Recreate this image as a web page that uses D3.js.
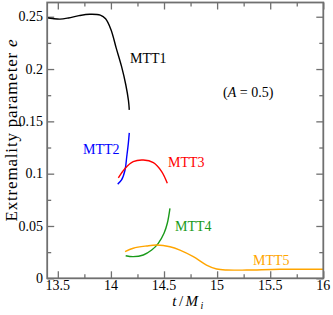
<!DOCTYPE html>
<html>
<head>
<meta charset="utf-8">
<script src="https://cdn.jsdelivr.net/npm/d3@7"></script>
<style>
  body { margin: 0; background: #fff; }
</style>
</head>
<body>
<svg id="chart" width="333" height="315"></svg>
<script>
// extremality parameter e against t/M_i, one array per MTT
var mtt1 = [
  [13.40, 0.2490], [13.45, 0.2483], [13.52, 0.2477], [13.60, 0.2488],
  [13.70, 0.2510], [13.80, 0.2523], [13.90, 0.2515], [13.95, 0.2480],
  [14.00, 0.2378], [14.05, 0.2200], [14.10, 0.2025], [14.14, 0.1850],
  [14.165, 0.1700], [14.173, 0.1610]
];
var mtt2 = [
  [14.064, 0.0900], [14.100, 0.0940], [14.133, 0.1035],
  [14.149, 0.1162], [14.164, 0.1290], [14.173, 0.1390]
];
var mtt3 = [
  [14.070, 0.0960], [14.133, 0.1050], [14.210, 0.1115], [14.305, 0.1130],
  [14.400, 0.1105], [14.478, 0.1020], [14.531, 0.0908]
];
var mtt4 = [
  [14.139, 0.0216], [14.210, 0.0207], [14.305, 0.0223], [14.384, 0.0270],
  [14.446, 0.0334], [14.500, 0.0430], [14.531, 0.0526], [14.556, 0.0669]
];
var mtt5 = [
  [14.133, 0.0254], [14.210, 0.0287], [14.337, 0.0309], [14.431, 0.0318],
  [14.556, 0.0302], [14.650, 0.0270], [14.776, 0.0207], [14.900, 0.0127],
  [14.996, 0.0089], [15.090, 0.0079], [15.280, 0.0079], [15.590, 0.0086],
  [16.000, 0.0086]
];

var xTicks = [13.5, 14, 14.5, 15, 15.5, 16];
var xMinor = [13.75, 14.25, 14.75, 15.25, 15.75];
var yTicks = [0, 0.05, 0.1, 0.15, 0.2, 0.25];
var yMinor = [0.025, 0.075, 0.125, 0.175, 0.225];

(function() {
  var series = [
    { name: 'MTT1', data: mtt1, color: '#000000', label: [130, 63] },
    { name: 'MTT2', data: mtt2, color: '#0000ff', label: [83, 154] },
    { name: 'MTT3', data: mtt3, color: '#ff0000', label: [168, 167] },
    { name: 'MTT4', data: mtt4, color: '#1a9a1a', label: [175, 231] },
    { name: 'MTT5', data: mtt5, color: '#ffa500', label: [253, 265] }
  ];

  var font = "'Liberation Serif', 'Times New Roman', Times, 'DejaVu Serif', serif";
  var svg = d3.select('#chart').attr('font-family', font);
  var pLeft = 47.2, pRight = 323.3, pTop = 2.5, pBottom = 278.3;

  var x = d3.scaleLinear().domain([13.4, 16]).range([pLeft, pRight]);
  var y = d3.scaleLinear().domain([0, 0.2636]).range([pBottom, pTop]);

  var axisColor = '#707070';

  // inward ticks on all four sides
  function ticks(axisFn, scale, vals, len, transform) {
    var g = svg.append('g')
      .attr('transform', transform)
      .call(axisFn(scale).tickValues(vals).tickSize(len).tickFormat(''));
    g.select('.domain').remove();
    g.selectAll('line').attr('stroke', axisColor).attr('stroke-width', 1.3);
  }
  ticks(d3.axisTop, x, xTicks, 7, 'translate(0,' + pBottom + ')');
  ticks(d3.axisTop, x, xMinor, 4, 'translate(0,' + pBottom + ')');
  ticks(d3.axisBottom, x, xTicks, 7, 'translate(0,' + pTop + ')');
  ticks(d3.axisBottom, x, xMinor, 4, 'translate(0,' + pTop + ')');
  ticks(d3.axisRight, y, yTicks, 7, 'translate(' + pLeft + ',0)');
  ticks(d3.axisRight, y, yMinor, 4, 'translate(' + pLeft + ',0)');
  ticks(d3.axisLeft, y, yTicks, 7, 'translate(' + pRight + ',0)');
  ticks(d3.axisLeft, y, yMinor, 4, 'translate(' + pRight + ',0)');

  // curves
  var line = d3.line()
    .x(function(d) { return x(d[0]); })
    .y(function(d) { return y(d[1]); })
    .curve(d3.curveCatmullRom.alpha(0.5));

  series.forEach(function(s) {
    svg.append('path')
      .datum(s.data)
      .attr('fill', 'none')
      .attr('stroke', s.color)
      .attr('stroke-width', 1.4)
      .attr('d', line);
    svg.append('text')
      .attr('x', s.label[0])
      .attr('y', s.label[1])
      .attr('fill', s.color)
      .attr('font-size', 14)
      .text(s.name);
  });

  // frame
  svg.append('rect')
    .attr('x', pLeft).attr('y', pTop)
    .attr('width', pRight - pLeft).attr('height', pBottom - pTop)
    .attr('fill', 'none')
    .attr('stroke', axisColor)
    .attr('stroke-width', 1.8);

  // tick labels
  svg.append('g').selectAll('text')
    .data(xTicks)
    .join('text')
    .attr('x', function(d) { return x(d); })
    .attr('y', 289.5)
    .attr('text-anchor', 'middle')
    .attr('font-size', 14)
    .text(function(d) { return d; });

  svg.append('g').selectAll('text')
    .data(yTicks)
    .join('text')
    .attr('x', 43)
    .attr('y', function(d) { return y(d); })
    .attr('dy', '0.33em')
    .attr('text-anchor', 'end')
    .attr('font-size', 14)
    .text(function(d) { return d; });

  // stretch a label to the width it has in the original
  function spreadTo(sel, target, nChars) {
    var len = sel.node().getComputedTextLength();
    var ls = Math.max(0, (target - len) / (nChars - 1));
    sel.attr('letter-spacing', ls);
  }

  // axis titles
  var xl = svg.append('text')
    .attr('x', 189)
    .attr('y', 306)
    .attr('text-anchor', 'middle')
    .attr('font-size', 15);
  xl.append('tspan').attr('font-style', 'italic').text('t');
  xl.append('tspan').text('/');
  xl.append('tspan').attr('font-style', 'italic').text('M');
  xl.append('tspan').attr('font-style', 'italic').attr('font-size', 10).attr('dy', 3).text('i');
  spreadTo(xl, 31, 4);

  var yl = svg.append('text')
    .attr('transform', 'translate(17,130) rotate(-90)')
    .attr('text-anchor', 'middle')
    .attr('font-size', 17);
  yl.append('tspan').text('Extremality parameter ');
  yl.append('tspan').attr('font-style', 'italic').text('e');
  spreadTo(yl, 182, 23);

  // annotation
  var ann = svg.append('text')
    .attr('x', 223)
    .attr('y', 97)
    .attr('font-size', 14);
  ann.append('tspan').text('(');
  ann.append('tspan').attr('font-style', 'italic').text('A');
  ann.append('tspan').text(' = 0.5)');
})();
</script>
</body>
</html>
